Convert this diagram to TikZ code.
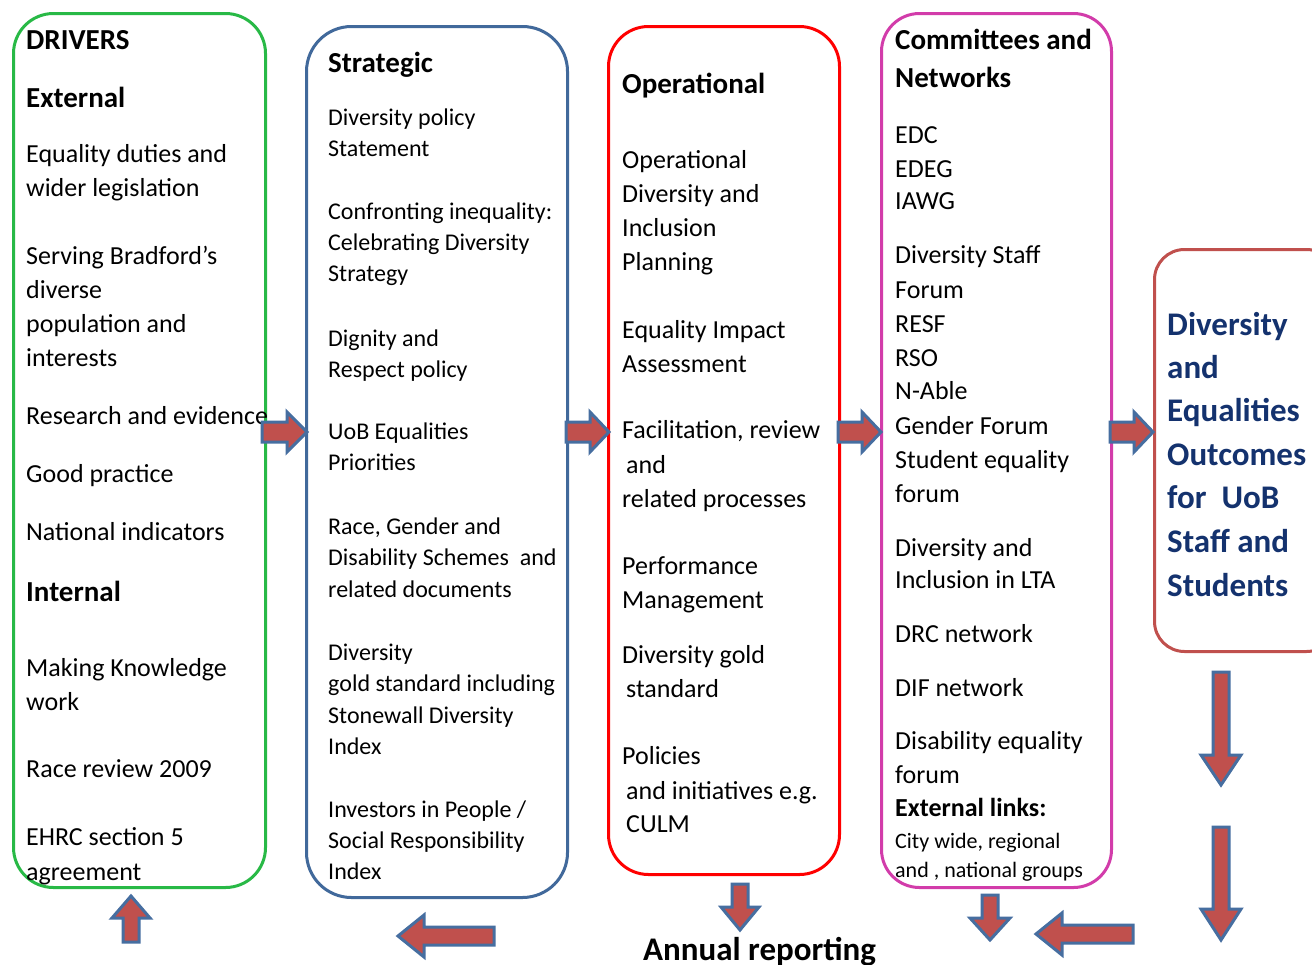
\documentclass[tikz,border=0pt]{standalone}
\usepackage{fontspec}
\setmainfont{Carlito}
\definecolor{cgreen}{RGB}{40,185,70}
\definecolor{cblue}{RGB}{65,105,155}
\definecolor{cred}{RGB}{255,0,0}
\definecolor{cmag}{RGB}{210,60,170}
\definecolor{cbrick}{RGB}{192,80,77}
\definecolor{afill}{RGB}{192,80,77}
\definecolor{aline}{RGB}{70,110,160}
\definecolor{cnavy}{RGB}{20,50,110}
\begin{document}
\begin{tikzpicture}[x=1pt,y=-1pt,
  bx/.style={rectangle,line width=3pt,inner sep=0pt,anchor=north west},
  tA/.style={anchor=base west,inner sep=0pt,font=\fontsize{26}{30}\selectfont},
  tB/.style={anchor=base west,inner sep=0pt,font=\fontsize{24}{28}\selectfont},
  tS/.style={anchor=base west,inner sep=0pt,font=\fontsize{22}{26}\selectfont},
  tH/.style={anchor=base west,inner sep=0pt,font=\bfseries\fontsize{29}{33}\selectfont},
  tL/.style={anchor=base west,inner sep=0pt,font=\bfseries\fontsize{26}{30}\selectfont},
  tO/.style={anchor=base west,inner sep=0pt,text=cnavy,font=\bfseries\fontsize{33}{37}\selectfont},
  blockarr/.style={fill=afill,draw=aline,line width=3pt,line join=miter}]
\useasboundingbox (0,0) rectangle (1312,964);
\clip (0,0) rectangle (1312,964);
\fill[white] (0,0) rectangle (1312,964);

% boxes
\node[bx,draw=cgreen,rounded corners=40,minimum width=252,minimum height=874] (drivers) at (12,12) {};
\node[bx,draw=cblue,rounded corners=45,minimum width=261,minimum height=871] (strategic) at (305,25) {};
\node[bx,draw=cred,rounded corners=40,minimum width=231,minimum height=848] (operational) at (607,25) {};
\node[bx,draw=cmag,rounded corners=38,minimum width=230,minimum height=874] (committees) at (880,12) {};
\node[bx,draw=cbrick,rounded corners=30,minimum width=182,minimum height=402] (outcomes) at (1153,248) {};

% box 1 text
\node[tH] (d0) at (26,49) {DRIVERS};
\node[tH] (d1) at (26,107) {External};
\node[tA] (d2) at (26,162) {Equality duties and};
\node[tA] (d3) at (26,196) {wider legislation};
\node[tA] (d4) at (26,264) {Serving Bradford’s};
\node[tA] (d5) at (26,298) {diverse};
\node[tA] (d6) at (26,332) {population and};
\node[tA] (d7) at (26,366) {interests};
\node[tA] (d8) at (26,424) {Research and evidence};
\node[tA] (d9) at (26,482) {Good practice};
\node[tA] (d10) at (26,540) {National indicators};
\node[tH] (d11) at (26,601) {Internal};
\node[tA] (d12) at (26,676) {Making Knowledge};
\node[tA] (d13) at (26,710) {work};
\node[tA] (d14) at (26,777) {Race review 2009};
\node[tA] (d15) at (26,845) {EHRC section 5};
\node[tA] (d16) at (26,880) {agreement};

% box 2 text
\node[tH] (s0) at (328,72) {Strategic};
\node[tB] (s1) at (328,125) {Diversity policy};
\node[tB] (s2) at (328,156) {Statement};
\node[tB] (s3) at (328,219) {Confronting inequality:};
\node[tB] (s4) at (328,250) {Celebrating Diversity};
\node[tB] (s5) at (328,281) {Strategy};
\node[tB] (s6) at (328,346) {Dignity and};
\node[tB] (s7) at (328,377) {Respect policy};
\node[tB] (s8) at (328,439) {UoB Equalities};
\node[tB] (s9) at (328,470) {Priorities};
\node[tB] (s10) at (328,534) {Race, Gender and};
\node[tB] (s11) at (328,565) {Disability Schemes\ \ and};
\node[tB] (s12) at (328,597) {related documents};
\node[tB] (s13) at (328,660) {Diversity};
\node[tB] (s14) at (328,691) {gold standard including};
\node[tB] (s15) at (328,723) {Stonewall Diversity};
\node[tB] (s16) at (328,754) {Index};
\node[tB] (s17) at (328,817) {Investors in People /};
\node[tB] (s18) at (328,848) {Social Responsibility};
\node[tB] (s19) at (328,879) {Index};

% box 3 text
\node[tH] (o0) at (622,93) {Operational};
\node[tA] (o1) at (622,168) {Operational};
\node[tA] (o2) at (622,202) {Diversity and};
\node[tA] (o3) at (622,236) {Inclusion};
\node[tA] (o4) at (622,270) {Planning};
\node[tA] (o5) at (622,338) {Equality Impact};
\node[tA] (o6) at (622,372) {Assessment};
\node[tA] (o7) at (622,438) {Facilitation, review};
\node[tA] (o8) at (626,473) {and};
\node[tA] (o9) at (622,507) {related processes};
\node[tA] (o10) at (622,574) {Performance};
\node[tA] (o11) at (622,608) {Management};
\node[tA] (o12) at (622,663) {Diversity gold};
\node[tA] (o13) at (626,697) {standard};
\node[tA] (o14) at (622,764) {Policies};
\node[tA] (o15) at (626,799) {and initiatives e.g.};
\node[tA] (o16) at (626,832) {CULM};

% box 4 text
\node[tH] (c0) at (895,49) {Committees and};
\node[tH] (c1) at (895,87) {Networks};
\node[tA] (c2) at (895,143) {EDC};
\node[tA] (c3) at (895,177) {EDEG};
\node[tA] (c4) at (895,209) {IAWG};
\node[tA] (c5) at (895,263) {Diversity Staff};
\node[tA] (c6) at (895,298) {Forum};
\node[tA] (c7) at (895,332) {RESF};
\node[tA] (c8) at (895,366) {RSO};
\node[tA] (c9) at (895,399) {N-Able};
\node[tA] (c10) at (895,434) {Gender Forum};
\node[tA] (c11) at (895,468) {Student equality};
\node[tA] (c12) at (895,502) {forum};
\node[tA] (c13) at (895,556) {Diversity and};
\node[tA] (c14) at (895,588) {Inclusion in LTA};
\node[tA] (c15) at (895,642) {DRC network};
\node[tA] (c16) at (895,696) {DIF network};
\node[tA] (c17) at (895,749) {Disability equality};
\node[tA] (c18) at (895,783) {forum};
\node[tL] (c19) at (895,816) {External links:};
\node[tS] (c20) at (895,848) {City wide, regional};
\node[tS] (c21) at (895,877) {and , national groups};

% box 5 text
\node[tO] (u0) at (1167,335) {Diversity};
\node[tO] (u1) at (1167,378) {and};
\node[tO] (u2) at (1167,421) {Equalities};
\node[tO] (u3) at (1167,465) {Outcomes};
\node[tO] (u4) at (1167,508) {for\ \ UoB};
\node[tO] (u5) at (1167,552) {Staff and};
\node[tO] (u6) at (1167,596) {Students};

% annual reporting
\node[tO,text=black] (annual) at (643,960) {Annual reporting};

% right arrows between boxes
\draw[blockarr] (262,422) -- (287,422) -- (287,412) -- (307,432) -- (287,452) -- (287,442) -- (262,442) -- cycle;
\draw[blockarr] (566,422) -- (590,422) -- (590,412) -- (609,432) -- (590,452) -- (590,442) -- (566,442) -- cycle;
\draw[blockarr] (838,422) -- (862,422) -- (862,412) -- (881,432) -- (862,452) -- (862,442) -- (838,442) -- cycle;
\draw[blockarr] (1110,422) -- (1134,422) -- (1134,412) -- (1153,432) -- (1134,452) -- (1134,442) -- (1110,442) -- cycle;

% long down arrows on the right
\draw[blockarr] (1213,672) -- (1229,672) -- (1229,755) -- (1241,755) -- (1221,785) -- (1201,755) -- (1213,755) -- cycle;
\draw[blockarr] (1213,827) -- (1229,827) -- (1229,909) -- (1241,909) -- (1221,940) -- (1201,909) -- (1213,909) -- cycle;

% bottom left arrow (right)
\draw[blockarr] (1133,925) -- (1062,925) -- (1062,913) -- (1036,934) -- (1062,955) -- (1062,943) -- (1133,943) -- cycle;
% down arrow under committees
\draw[blockarr] (982,895) -- (998,895) -- (998,918) -- (1010,918) -- (990,940) -- (970,918) -- (982,918) -- cycle;
% down arrow under operational
\draw[blockarr] (732,884) -- (748,884) -- (748,907) -- (759,907) -- (740,930) -- (721,907) -- (732,907) -- cycle;
% left arrow under strategic
\draw[blockarr] (494,927) -- (424,927) -- (424,915) -- (398,936) -- (424,957) -- (424,945) -- (494,945) -- cycle;
% up arrow under drivers
\draw[blockarr] (123,942) -- (139,942) -- (139,918) -- (150,918) -- (131,896) -- (112,918) -- (123,918) -- cycle;
\end{tikzpicture}
\end{document}
